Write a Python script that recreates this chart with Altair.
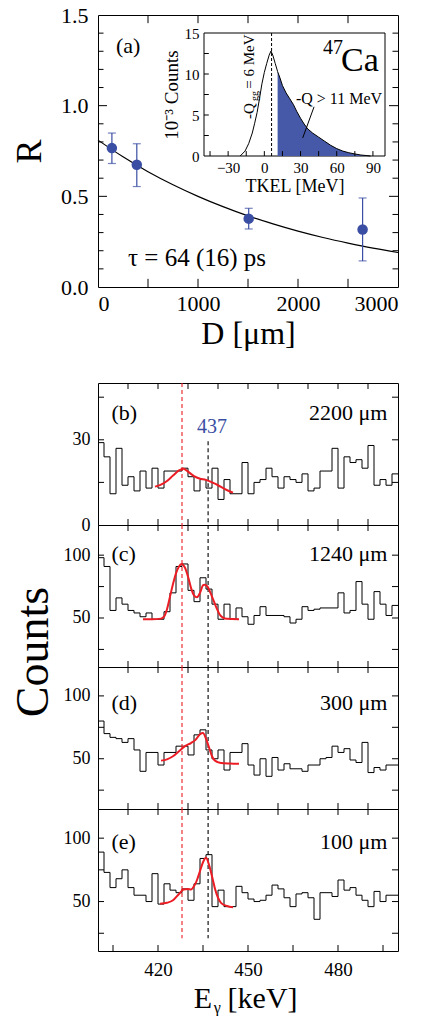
import altair as alt
import pandas as pd

FONT = "Liberation Serif"
BLUE = "#3a4ea3"
FILL = "#4659a8"
RED = "#ec1c24"

# ---------------- panel (a): ratio R vs distance D ----------------
D_um = [139, 388, 1507, 2646]
R_val = [0.766, 0.674, 0.377, 0.317]
R_low = [0.681, 0.554, 0.320, 0.144]
R_high = [0.849, 0.790, 0.434, 0.491]
fit_D = [0, 250, 500, 750, 1000, 1250, 1500, 1750, 2000, 2250, 2500, 2750, 3000]
fit_R = [0.81, 0.718, 0.636, 0.564, 0.500, 0.443, 0.392, 0.348, 0.308, 0.273, 0.242, 0.214, 0.19]
a_xlabels = [0, 1000, 2000, 3000]
a_ylabels = [0.0, 0.5, 1.0, 1.5]
a_xticks = [500, 1000, 1500, 2000, 2500]
a_yminor = [0.1, 0.2, 0.3, 0.4, 0.6, 0.7, 0.8, 0.9, 1.1, 1.2, 1.3, 1.4]
a_ymajor = [0.5, 1.0]

# ---------------- inset: TKEL distribution ----------------
tkel = [-20, -16, -13, -10, -8, -6, -4, -2, 0, 2, 4, 5.5, 7, 9, 11, 13, 15, 18, 21, 24,
        27, 30, 33, 36, 40, 45, 50, 55, 60, 65, 70, 75, 80, 85, 88]
tkel_counts = [0, 0.6, 1.5, 2.8, 4.0, 5.3, 7.0, 8.8, 10.2, 11.3, 12.3, 12.8, 12.3, 11.3, 10.3,
               9.5, 8.6, 7.7, 7.0, 6.3, 5.4, 4.6, 3.9, 3.3, 2.8, 2.3, 1.8, 1.3, 0.9, 0.6,
               0.4, 0.25, 0.12, 0.05, 0]
Q_CUT = 11
Q_GG = 6
in_xlabels = [-30, 0, 30, 60, 90]
in_ylabels = [0, 5, 10, 15]
in_xticks = [-45, -30, -15, 0, 15, 30, 45, 60, 75, 90]
in_yticks = [2.5, 5, 7.5, 10, 12.5]

# ---------------- gamma spectra ----------------
E_left = list(range(400, 500, 2))  # bin left edges, keV
counts_b = [29, 24, 11, 27, 14, 17, 12, 19, 13, 20, 13, 19, 19, 19, 20, 17, 12, 16, 13, 20,
            9, 16, 11, 11, 22, 11, 15, 16, 20, 17, 13, 17, 16, 15, 18, 12, 13, 19, 19, 27,
            13, 24, 22, 23, 20, 28, 14, 16, 14, 18]
counts_c = [98, 91, 56, 66, 61, 56, 54, 51, 54, 49, 49, 55, 70, 91, 93, 72, 63, 82, 73, 61,
            49, 61, 49, 58, 51, 45, 52, 59, 52, 52, 52, 51, 46, 49, 59, 56, 57, 58, 58, 58,
            70, 54, 56, 79, 61, 49, 71, 61, 52, 60]
counts_d = [80, 70, 67, 66, 63, 66, 57, 40, 55, 55, 45, 55, 55, 60, 60, 53, 69, 73, 57, 50,
            57, 41, 55, 55, 62, 45, 37, 50, 36, 51, 41, 46, 42, 42, 40, 45, 45, 50, 51, 60,
            55, 58, 49, 47, 63, 39, 43, 41, 45, 45]
counts_e = [89, 73, 61, 68, 75, 61, 55, 55, 50, 72, 48, 64, 59, 57, 60, 51, 64, 84, 87, 46,
            59, 46, 46, 62, 57, 52, 50, 51, 55, 63, 60, 53, 46, 56, 57, 53, 36, 57, 57, 54,
            67, 59, 61, 55, 51, 46, 58, 50, 55, 55]

fit_b_E = [419, 421, 423, 425, 427, 428.5, 430, 432, 434, 436, 438, 440, 442, 444, 445]
fit_b_C = [13.5, 14.2, 15.5, 17.4, 19.2, 19.8, 18.8, 17.2, 16.3, 15.9, 15.0, 14.0, 12.8, 11.8, 11.4]
fit_c_E = [415, 418, 421, 422, 423, 424, 425, 426, 427, 427.8, 429, 430, 431, 432, 433, 434,
           435, 435.5, 436.5, 437.5, 438.5, 439.5, 440.5, 441.5, 443, 447]
fit_c_C = [49, 49, 49.5, 51, 57, 67, 77, 85.5, 91, 93, 90, 83, 74, 68, 66.5, 70, 76, 76.5,
           75, 70, 64, 58, 53, 50.5, 49.3, 49]
fit_d_E = [421, 423, 425, 427, 429, 431, 432.5, 434, 435, 436, 437, 438, 439, 441, 444, 447]
fit_d_C = [48.5, 49.5, 52, 56, 60, 62.5, 65, 69.5, 70.5, 66, 59, 52, 48.5, 46.6, 46.2, 46]
fit_e_E = [420.7, 423, 425, 427, 428.5, 430, 431, 432, 433, 434, 435, 436, 437, 438, 439,
           440, 441, 443, 445]
fit_e_C = [48.2, 49, 51, 56, 59.5, 60, 59.5, 62, 67, 74, 81, 84.5, 79, 70, 60, 53, 49, 46.5, 45.5]

E_RED = 428
E_BLACK = 436.7
spec_xticks = [410, 420, 430, 440, 450, 460, 470, 480, 490]
e_bottom_ticks = [405, 420, 435, 450, 465, 480, 495]

W = 300
HA = 272
H = 142


# =============== panel (a) ===============
xs_a = alt.Scale(domain=[0, 3000], nice=False, zero=False)
ys_a = alt.Scale(domain=[0, 1.5], nice=False, zero=False)
xax_a = alt.Axis(values=a_xlabels, format="d", title="D [μm]", titleFontSize=32, titlePadding=4,
                 labelFontSize=22, labelPadding=6, ticks=False, domain=False, grid=False)
yax_a = alt.Axis(values=a_ylabels, format=".1f", title="R", titleFontSize=36, titlePadding=12,
                 labelFontSize=22, labelPadding=10, ticks=False, domain=False, grid=False)


def AX(f):
    return alt.X(f, type="quantitative", scale=xs_a, axis=xax_a)


def AXD(d):
    return alt.XDatum(d, type="quantitative", scale=xs_a, axis=xax_a)


def AY(f):
    return alt.Y(f, type="quantitative", scale=ys_a, axis=yax_a)


def AYD(d):
    return alt.YDatum(d, type="quantitative", scale=ys_a, axis=yax_a)


df_pts = pd.DataFrame({"D": D_um, "R": R_val, "lo": R_low, "hi": R_high})
df_fit = pd.DataFrame({"D": fit_D, "R": fit_R})

a_fit = alt.Chart(df_fit).mark_line(color="black", strokeWidth=1.2, interpolate="monotone").encode(
    x=AX("D"), y=AY("R"))
a_err = alt.Chart(df_pts).mark_rule(color=BLUE, strokeWidth=1.2).encode(
    x=AX("D"), y=AY("lo"), y2=alt.Y2("hi"))
a_cap_lo = alt.Chart(df_pts).mark_tick(color=BLUE, orient="horizontal", size=8, thickness=1.2).encode(
    x=AX("D"), y=AY("lo"))
a_cap_hi = alt.Chart(df_pts).mark_tick(color=BLUE, orient="horizontal", size=8, thickness=1.2).encode(
    x=AX("D"), y=AY("hi"))
a_pts = alt.Chart(df_pts).mark_circle(color=BLUE, size=110, opacity=1).encode(
    x=AX("D"), y=AY("R"))
a_lab = alt.Chart(pd.DataFrame({"t": ["(a)"]})).mark_text(
    align="left", baseline="middle", fontSize=22, font=FONT).encode(
    x=AXD(180), y=AYD(1.33), text="t:N")
a_tau = alt.Chart(pd.DataFrame({"t": ["τ = 64 (16) ps"]})).mark_text(
    align="left", baseline="middle", fontSize=25, font=FONT).encode(
    x=AXD(300), y=AYD(0.16), text="t:N")

df_axt = pd.DataFrame({"v": a_xticks})
df_aym = pd.DataFrame({"v": a_yminor})
df_ayM = pd.DataFrame({"v": a_ymajor})
tick_style = dict(color="black", strokeWidth=1)
a_ticks = [
    alt.Chart(df_axt).mark_rule(**tick_style).encode(x=AX("v"), y=AYD(0), y2=alt.Y2Datum(0.045)),
    alt.Chart(df_axt).mark_rule(**tick_style).encode(x=AX("v"), y=AYD(1.5), y2=alt.Y2Datum(1.455)),
    alt.Chart(df_aym).mark_rule(**tick_style).encode(y=AY("v"), x=AXD(0), x2=alt.X2Datum(55)),
    alt.Chart(df_aym).mark_rule(**tick_style).encode(y=AY("v"), x=AXD(3000), x2=alt.X2Datum(2945)),
    alt.Chart(df_ayM).mark_rule(**tick_style).encode(y=AY("v"), x=AXD(0), x2=alt.X2Datum(90)),
    alt.Chart(df_ayM).mark_rule(**tick_style).encode(y=AY("v"), x=AXD(3000), x2=alt.X2Datum(2910)),
]
main_a = alt.layer(a_fit, a_err, a_cap_lo, a_cap_hi, a_pts, a_lab, a_tau, *a_ticks)

# ---- inset ----
xs_i = alt.Scale(domain=[-50, 100], range=[106, 287], nice=False, zero=False)
ys_i = alt.Scale(domain=[0, 15], range=[141, 18], nice=False, zero=False)
xax_i = alt.Axis(orient="bottom", offset=-(HA - 141), values=in_xlabels, title="TKEL [MeV]",
                 titleFontSize=18, titlePadding=2, labelFontSize=15, labelPadding=4,
                 ticks=False, domain=False, grid=False, zindex=1)
yax_i = alt.Axis(orient="left", offset=-106, values=in_ylabels, title="10⁻³ Counts",
                 titleFontSize=19, titlePadding=3, labelFontSize=15, labelPadding=5,
                 ticks=False, domain=False, grid=False, zindex=1)


def IX(f):
    return alt.X(f, type="quantitative", scale=xs_i, axis=xax_i)


def IXD(d):
    return alt.XDatum(d, type="quantitative", scale=xs_i, axis=xax_i)


def IY(f):
    return alt.Y(f, type="quantitative", scale=ys_i, axis=yax_i)


def IYD(d):
    return alt.YDatum(d, type="quantitative", scale=ys_i, axis=yax_i)


df_tk = pd.DataFrame({"t": tkel, "c": tkel_counts})
df_fill = df_tk[df_tk["t"] >= Q_CUT]
one = pd.DataFrame({"k": [0]})

i_frame = alt.Chart(one).mark_rect(fill="white", stroke="black", strokeWidth=1).encode(
    x=IXD(-50), x2=alt.X2Datum(100), y=IYD(0), y2=alt.Y2Datum(15))
i_fill = alt.Chart(df_fill).mark_area(color=FILL, opacity=1, interpolate="linear").encode(
    x=IX("t"), y=IY("c"), y2=alt.Y2Datum(0))
i_line = alt.Chart(df_tk).mark_line(color="black", strokeWidth=1).encode(x=IX("t"), y=IY("c"))
i_dash = alt.Chart(one).mark_rule(color="black", strokeWidth=1, strokeDash=[3, 2]).encode(
    x=IXD(Q_GG), y=IYD(0), y2=alt.Y2Datum(15))
i_ptr = alt.Chart(one).mark_rule(color="black", strokeWidth=1).encode(
    x=IXD(41.2), y=IYD(6.0), x2=alt.X2Datum(31.8), y2=alt.Y2Datum(2.2))


def itext(txt, t, c, size, **kw):
    return alt.Chart(pd.DataFrame({"s": [txt]})).mark_text(
        font=FONT, fontSize=size, color="black", **kw).encode(x=IXD(t), y=IYD(c), text="s:N")


i_texts = [
    itext("Ca", 63.5, 10.4, 34, align="left", baseline="alphabetic"),
    itext("47", 48.6, 12.4, 20, align="left", baseline="alphabetic"),
    itext("-Q > 11 MeV", 26.2, 6.3, 16, align="left", baseline="alphabetic"),
    itext("-Q", -8.6, 4.5, 15, align="left", baseline="alphabetic", angle=270),
    itext("gg", -5.2, 6.7, 10, align="left", baseline="alphabetic", angle=270),
    itext("= 6 MeV", -8.6, 8.2, 15, align="left", baseline="alphabetic", angle=270),
]
df_itx = pd.DataFrame({"v": in_xticks})
df_ity = pd.DataFrame({"v": in_yticks})
i_ticks = [
    alt.Chart(df_itx).mark_rule(**tick_style).encode(x=IX("v"), y=IYD(0), y2=alt.Y2Datum(0.6)),
    alt.Chart(df_ity).mark_rule(**tick_style).encode(y=IY("v"), x=IXD(-50), x2=alt.X2Datum(-46)),
]
inset = alt.layer(i_frame, i_fill, i_line, i_dash, i_ptr, *i_texts, *i_ticks)

panel_a = alt.layer(main_a, inset).resolve_scale(x="independent", y="independent").properties(
    width=W, height=HA)

spacer = alt.Chart(one).mark_point(opacity=0).encode(
    x=alt.X("k:Q", axis=None), y=alt.Y("k:Q", axis=None)).properties(
    width=W, height=96, view=alt.ViewBackground(strokeOpacity=0))


# =============== spectra panels ===============
def spectrum(counts, fitE, fitC, ydom, ylabels, yticks, tag, tag_y, dist, red_top, red_bot,
             black_top, black_bot, bottom=False, extra=None):
    ymin, ymax = ydom
    ylen = 6.0 * (ymax - ymin) / H
    xs = alt.Scale(domain=[400, 500], nice=False, zero=False)
    ys = alt.Scale(domain=ydom, nice=False, zero=False)
    if bottom:
        xax = alt.Axis(values=[420, 450, 480], title=None, ticks=False, domain=False, grid=False,
                       labelFontSize=19, labelPadding=9)
    else:
        xax = None
    yax = alt.Axis(values=ylabels, title=None, ticks=False, domain=False, grid=False,
                   labelFontSize=18, labelPadding=8)

    def X(f):
        return alt.X(f, type="quantitative", scale=xs, axis=xax)

    def XD(d):
        return alt.XDatum(d, type="quantitative", scale=xs, axis=xax)

    def Y(f):
        return alt.Y(f, type="quantitative", scale=ys, axis=yax)

    def YD(d):
        return alt.YDatum(d, type="quantitative", scale=ys, axis=yax)

    df_h = pd.DataFrame({"E": E_left + [500], "c": counts + [counts[-1]]})
    df_f = pd.DataFrame({"E": fitE, "c": fitC})
    layers = [
        alt.Chart(df_h).mark_line(interpolate="step-after", color="black", strokeWidth=1).encode(
            x=X("E"), y=Y("c")),
        alt.Chart(one).mark_rule(color=RED, strokeWidth=1.1, strokeDash=[4, 3]).encode(
            x=XD(E_RED), y=YD(red_top), y2=alt.Y2Datum(red_bot)),
        alt.Chart(one).mark_rule(color="black", strokeWidth=1.1, strokeDash=[4, 3]).encode(
            x=XD(E_BLACK), y=YD(black_top), y2=alt.Y2Datum(black_bot)),
        alt.Chart(df_f).mark_line(color=RED, strokeWidth=2, interpolate="monotone").encode(
            x=X("E"), y=Y("c")),
        alt.Chart(pd.DataFrame({"s": [tag]})).mark_text(
            align="left", baseline="middle", fontSize=22, font=FONT).encode(
            x=XD(404.5), y=YD(tag_y), text="s:N"),
        alt.Chart(pd.DataFrame({"s": [dist]})).mark_text(
            align="right", baseline="middle", fontSize=22, font=FONT).encode(
            x=XD(496.5), y=YD(tag_y), text="s:N"),
    ]
    bt = e_bottom_ticks if bottom else spec_xticks
    layers += [
        alt.Chart(pd.DataFrame({"v": bt})).mark_rule(**tick_style).encode(
            x=X("v"), y=YD(ymin), y2=alt.Y2Datum(ymin + ylen)),
        alt.Chart(pd.DataFrame({"v": spec_xticks})).mark_rule(**tick_style).encode(
            x=X("v"), y=YD(ymax), y2=alt.Y2Datum(ymax - ylen)),
        alt.Chart(pd.DataFrame({"v": yticks})).mark_rule(**tick_style).encode(
            y=Y("v"), x=XD(400), x2=alt.X2Datum(402)),
        alt.Chart(pd.DataFrame({"v": yticks})).mark_rule(**tick_style).encode(
            y=Y("v"), x=XD(500), x2=alt.X2Datum(498)),
    ]
    if extra is not None:
        layers += extra(XD, YD)
    return alt.layer(*layers).properties(width=W, height=H)


def extra_b(XD, YD):
    return [alt.Chart(pd.DataFrame({"s": ["437"]})).mark_text(
        align="center", baseline="middle", fontSize=20, font=FONT, color=BLUE).encode(
        x=XD(438), y=YD(34.5), text="s:N")]


def extra_c(XD, YD):
    return [alt.Chart(pd.DataFrame({"s": ["Counts"]})).mark_text(
        align="center", baseline="middle", fontSize=46, font=FONT, angle=270).encode(
        x=alt.value(-64), y=alt.value(127), text="s:N")]


def extra_e(XD, YD):
    return [
        alt.Chart(pd.DataFrame({"s": ["E"]})).mark_text(
            align="left", baseline="alphabetic", fontSize=30, font=FONT).encode(
            x=XD(431.9), y=alt.value(H + 57), text="s:N"),
        alt.Chart(pd.DataFrame({"s": ["γ"]})).mark_text(
            align="left", baseline="alphabetic", fontSize=16, font=FONT).encode(
            x=XD(438.6), y=alt.value(H + 62), text="s:N"),
        alt.Chart(pd.DataFrame({"s": ["[keV]"]})).mark_text(
            align="left", baseline="alphabetic", fontSize=30, font=FONT).encode(
            x=XD(443.2), y=alt.value(H + 57), text="s:N"),
    ]


pb = spectrum(counts_b, fit_b_E, fit_b_C, [0, 50], [0, 30], [15, 30, 45], "(b)", 39.4,
              "2200 μm", 50, 0, 29.5, 0, extra=extra_b)
pc = spectrum(counts_c, fit_c_E, fit_c_C, [11, 124], [50, 100], [25, 50, 75, 100], "(c)", 100.8,
              "1240 μm", 124, 11, 124, 11, extra=extra_c)
pd_ = spectrum(counts_d, fit_d_E, fit_d_C, [10, 123], [50, 100], [25, 50, 75, 100], "(d)", 94,
               "300 μm", 123, 10, 123, 10)
pe = spectrum(counts_e, fit_e_E, fit_e_C, [11, 123], [50, 100], [25, 50, 75, 100], "(e)", 97,
              "100 μm", 123, 21, 123, 21, bottom=True, extra=extra_e)

chart = alt.vconcat(panel_a, spacer, pb, pc, pd_, pe, spacing=0, bounds="flush").configure_view(
    stroke="black", strokeWidth=1).configure_axis(
    labelFont=FONT, titleFont=FONT, labelColor="black", titleColor="black",
    titleFontWeight="normal").configure_text(font=FONT, color="black").properties(
    padding={"left": 10, "top": 3, "right": 5, "bottom": 0}, background="white")

chart.save("out.html", embed_options={"renderer": "svg", "actions": False})
